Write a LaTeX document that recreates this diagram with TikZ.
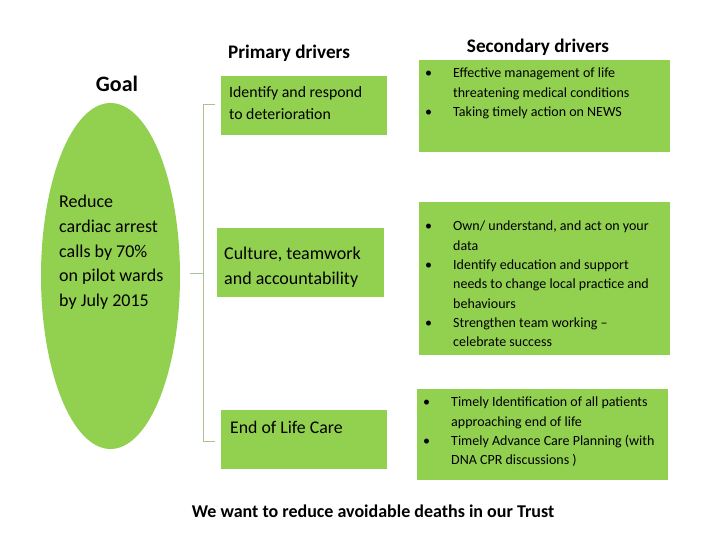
\documentclass[tikz,border=0pt]{standalone}
\usepackage{fontspec}
\setmainfont{Carlito}
\usetikzlibrary{shapes.geometric}
\definecolor{lg}{HTML}{92D050}
\definecolor{brc}{HTML}{A9C490}
\begin{document}
\begin{tikzpicture}[x=1pt,y=-1pt,
  box/.style={fill=lg, draw=none, inner sep=0pt, anchor=north west},
  lbl/.style={inner sep=0pt, align=left, anchor=west},
  title/.style={inner sep=0pt, font=\bfseries\fontsize{19.2}{23}\selectfont},
  brace/.style={draw=brc, line width=0.9pt}]
\useasboundingbox (0,0) rectangle (720,540);

% titles
\node[title] (tp) at (289,53) {Primary drivers};
\node[title] (ts) at (538,47) {Secondary drivers};
\node[inner sep=0pt, font=\bfseries\fontsize{22}{26}\selectfont] (tg) at (117,84) {Goal};

% goal ellipse
\node[ellipse, fill=lg, inner sep=0pt, minimum width=139pt, minimum height=346pt] (goal) at (110.5,276) {};
\node[lbl, font=\fontsize{18}{24.7}\selectfont] (goalt) at (59,252.5) {Reduce\\cardiac arrest\\calls by 70\%\\on pilot wards\\by July 2015};

% primary boxes
\node[box, minimum width=166pt, minimum height=59pt] (p1) at (221,76) {};
\node[lbl, font=\fontsize{15.8}{22}\selectfont] (p1t) at (229,103) {Identify and respond\\to deterioration};
\node[box, minimum width=167pt, minimum height=69pt] (p2) at (217,228) {};
\node[lbl, font=\fontsize{18}{25}\selectfont] (p2t) at (224,267.5) {Culture, teamwork\\and accountability};
\node[box, minimum width=166pt, minimum height=59pt] (p3) at (221,410) {};
\node[lbl, font=\fontsize{17.8}{22}\selectfont] (p3t) at (230,427) {End of Life Care};

% brace
\coordinate (bt) at (215,104);
\coordinate (bb) at (215,441);
\coordinate (bm) at (190,273);
\draw[brace] (bt) -- (203,104) -- (203,441) -- (bb);
\draw[brace] (203,273) -- (bm);

% secondary boxes
\node[box, minimum width=251pt, minimum height=92pt] (s1) at (419,60) {};
\node[lbl, font=\fontsize{14}{19.5}\selectfont] (s1t) at (425,93.5) {\begin{tabular}{@{}p{28pt}@{}l@{}}
\textbullet & Effective management of life\\
 & threatening medical conditions\\
\textbullet & Taking timely action on NEWS
\end{tabular}};

\node[box, minimum width=251pt, minimum height=153pt] (s2) at (419,202) {};
\node[lbl, font=\fontsize{14}{19.35}\selectfont] (s2t) at (425,285) {\begin{tabular}{@{}p{28pt}@{}l@{}}
\textbullet & Own/ understand, and act on your\\
 & data\\
\textbullet & Identify education and support\\
 & needs to change local practice and\\
 & behaviours\\
\textbullet & Strengthen team working --\\
 & celebrate success
\end{tabular}};

\node[box, minimum width=251pt, minimum height=91pt] (s3) at (417,389) {};
\node[lbl, font=\fontsize{14}{19.3}\selectfont] (s3t) at (423,432) {\begin{tabular}{@{}p{28pt}@{}l@{}}
\textbullet & Timely Identification of all patients\\
 & approaching end of life\\
\textbullet & Timely Advance Care Planning (with\\
 & DNA CPR discussions )
\end{tabular}};

% bottom statement
\node[inner sep=0pt, font=\bfseries\fontsize{18}{21}\selectfont] (bot) at (373,511) {We want to reduce avoidable deaths in our Trust};
\end{tikzpicture}
\end{document}
